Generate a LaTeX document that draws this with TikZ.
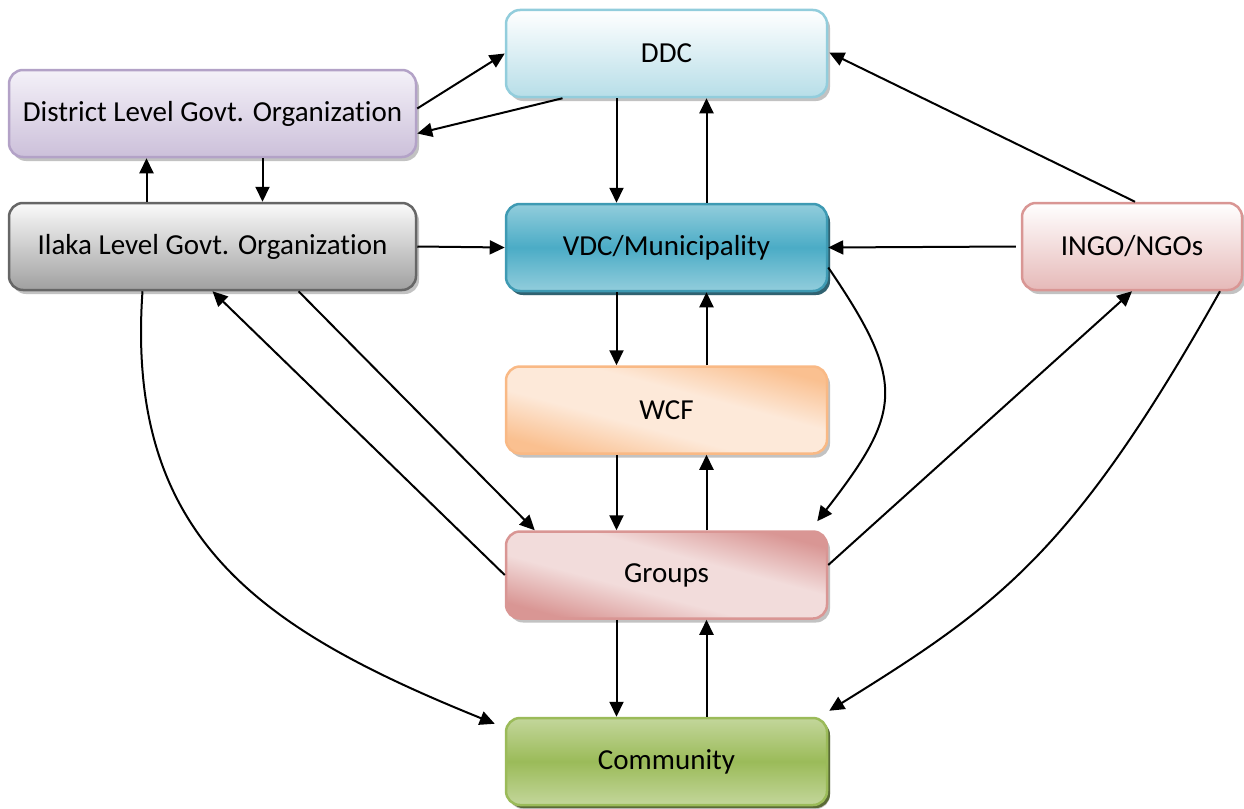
\documentclass[tikz,border=0pt]{standalone}
\usepackage{fontspec}
\setmainfont{Carlito}[Ligatures=NoCommon]
\usetikzlibrary{arrows.meta,shadows,calc}
\definecolor{ddcB}{HTML}{B7DEE8}
\definecolor{ddcD}{HTML}{92CDDC}
\definecolor{distT}{HTML}{F4F1F8}
\definecolor{distB}{HTML}{CCC0DA}
\definecolor{distD}{HTML}{B3A2C7}
\definecolor{ilkT}{HTML}{FAFAFA}
\definecolor{ilkB}{HTML}{A0A0A0}
\definecolor{ilkD}{HTML}{666666}
\definecolor{vdcL}{HTML}{92CDDC}
\definecolor{vdcM}{HTML}{4BACC6}
\definecolor{vdcD}{HTML}{3E9AB3}
\definecolor{vdcS}{HTML}{215968}
\definecolor{ingoB}{HTML}{E6B9B8}
\definecolor{ingoD}{HTML}{D99694}
\definecolor{wcfD}{HTML}{FAC090}
\definecolor{wcfL}{HTML}{FDE9D9}
\definecolor{wcfE}{HTML}{F9B985}
\definecolor{grpD}{HTML}{D99694}
\definecolor{grpL}{HTML}{F2DCDB}
\definecolor{comL}{HTML}{C3D69B}
\definecolor{comM}{HTML}{9BBB59}
\definecolor{comS}{HTML}{4F6228}
\definecolor{shd}{HTML}{9A9A9A}
\pgfdeclarehorizontalshading{wcfshade}{100bp}{color(0bp)=(wcfD); color(25bp)=(wcfD); color(42bp)=(wcfL); color(58bp)=(wcfL); color(75bp)=(wcfD); color(100bp)=(wcfD)}
\pgfdeclarehorizontalshading{grpshade}{100bp}{color(0bp)=(grpD); color(25bp)=(grpD); color(42bp)=(grpL); color(58bp)=(grpL); color(75bp)=(grpD); color(100bp)=(grpD)}
\begin{document}
\begin{tikzpicture}[x=1pt,y=-1pt,
  box/.style={rectangle, rounded corners=14pt, line width=2.5pt,
    minimum width=321pt, minimum height=87pt, inner sep=0pt,
    font=\fontsize{29}{34}\selectfont, text=black,
    drop shadow={shadow xshift=3pt, shadow yshift=-4pt, fill=shd, opacity=0.6}},
  arr/.style={-{Triangle[length=15pt,width=14pt]}, line width=2pt, black}]
\useasboundingbox (0,0) rectangle (1244,808);

\node[box, top color=white, bottom color=ddcB, draw=ddcD] (ddc) at (666.5,53.5) {DDC};
\node[box, minimum width=407pt, top color=distT, bottom color=distB, draw=distD] (district) at (212.5,113.5) {District Level Govt. Organization};
\node[box, minimum width=407pt, top color=ilkT, bottom color=ilkB, draw=ilkD] (ilaka) at (212.5,246.5) {Ilaka Level Govt. Organization};
\node[box, top color=vdcL, bottom color=vdcL, middle color=vdcM, draw=vdcD,
  drop shadow={shadow xshift=3pt, shadow yshift=-4pt, fill=vdcS, opacity=0.9}] (vdc) at (666.5,247.5) {VDC/Municipality};
\node[box, minimum width=220pt, top color=white, bottom color=ingoB, draw=ingoD] (ingo) at (1132,246.5) {INGO/NGOs};
\node[box, shade, shading=wcfshade, shading angle=75, draw=wcfE] (wcf) at (666.5,410) {WCF};
\node[box, shade, shading=grpshade, shading angle=75, draw=grpD] (groups) at (666.5,575) {Groups};
\node[box, top color=comL, bottom color=comL, middle color=comM, draw=comM,
  drop shadow={shadow xshift=3pt, shadow yshift=-3pt, fill=comS, opacity=0.9}] (community) at (666.5,761.5) {Community};

% District <-> DDC
\draw[arr] ($(district.east)+(0,-5)$) -- (ddc.west);
\draw[arr] ($(ddc.south)+(-104,0)$) -- ($(district.east)+(0,20)$);
% DDC <-> VDC
\draw[arr] ($(ddc.south)+(-50,0)$) -- ($(vdc.north)+(-50,0)$);
\draw[arr] ($(vdc.north)+(40,0)$) -- ($(ddc.south)+(40,0)$);
% Ilaka <-> District
\draw[arr] ($(ilaka.north)+(-66,0)$) -- ($(district.south)+(-66,0)$);
\draw[arr] ($(district.south)+(50,0)$) -- ($(ilaka.north)+(50,0)$);
% Ilaka -> VDC, INGO -> VDC, INGO -> DDC
\draw[arr] (ilaka.east) -- (vdc.west);
\draw[arr] ($(ingo.west)+(-5,0)$) -- (vdc.east);
\draw[arr] ($(ingo.north)+(3,0)$) -- ($(ddc.east)+(1,-1)$);
% VDC <-> WCF
\draw[arr] ($(vdc.south)+(-50,0)$) -- ($(wcf.north)+(-50,0)$);
\draw[arr] ($(wcf.north)+(40,0)$) -- ($(vdc.south)+(40,0)$);
% WCF <-> Groups
\draw[arr] ($(wcf.south)+(-50,0)$) -- ($(groups.north)+(-50,0)$);
\draw[arr] ($(groups.north)+(40,0)$) -- ($(wcf.south)+(40,0)$);
% Groups <-> Community
\draw[arr] ($(groups.south)+(-50,0)$) -- ($(community.north)+(-50,0)$);
\draw[arr] ($(community.north)+(40,0)$) -- ($(groups.south)+(40,0)$);
% Ilaka <-> Groups
\draw[arr] ($(ilaka.south)+(86,0)$) -- ($(groups.north west)+(30,0)$);
\draw[arr] (groups.west) -- (ilaka.south);
% Ilaka -> Community (curve)
\draw[arr] ($(ilaka.south)+(-70,0)$) .. controls (125,540) and (263,630) .. ($(community.north west)+(-10,7)$);
% VDC -> Groups (curve)
\draw[arr] ($(vdc.east)+(0,20)$) .. controls (907,383) and (902,412) .. ($(groups.north east)+(-11,-9)$);
% Groups -> INGO
\draw[arr] ($(groups.east)+(0,-10)$) -- (ingo.south);
% INGO -> Community (curve)
\draw[arr] ($(ingo.south)+(88,0)$) .. controls (1073,553) and (998,606) .. ($(community.north east)+(1,-6)$);
\end{tikzpicture}
\end{document}
